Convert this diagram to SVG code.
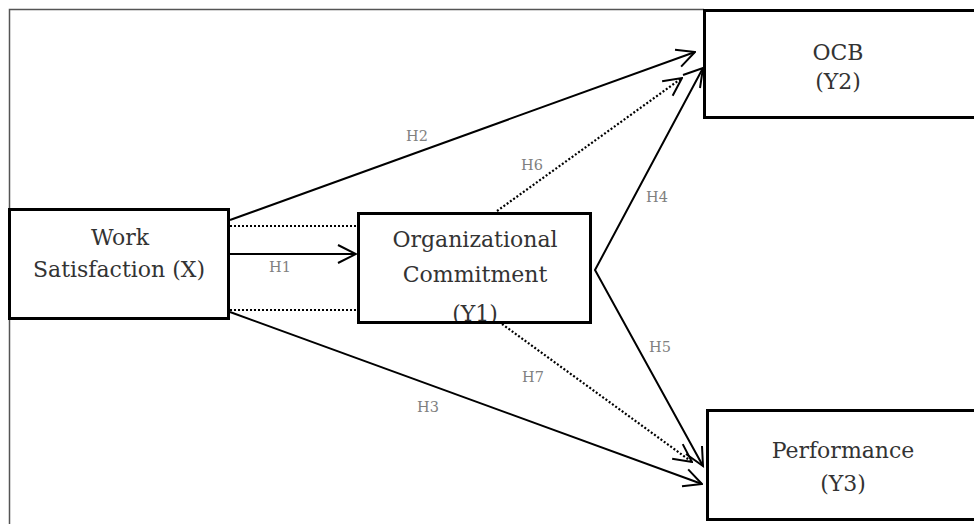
<svg xmlns="http://www.w3.org/2000/svg" width="974" height="524" viewBox="0 0 974 524">
<style>
.box{fill:#fff;stroke:#000;stroke-width:3}
.t{font-family:"DejaVu Serif","Liberation Serif",serif;font-size:22px;fill:#333;text-anchor:middle}
.l{font-family:"DejaVu Serif","Liberation Serif",serif;font-size:14.5px;fill:#808080;text-anchor:middle}
.s{fill:none;stroke:#000;stroke-width:2}
.d{fill:none;stroke:#000;stroke-width:2.2;stroke-dasharray:2 2}
.frame{fill:none;stroke:#555;stroke-width:1.5}
</style>
<defs>
<marker id="ahl" viewBox="0 0 24 24" refX="23" refY="12" markerWidth="24" markerHeight="24" markerUnits="userSpaceOnUse" orient="auto">
<path d="M5,3 L23,12 L5,21" fill="none" stroke="#000" stroke-width="2"/>
</marker>
<clipPath id="clipY1"><rect x="358" y="213" width="233" height="109"/></clipPath>
</defs>
<g id="frame">
<path class="frame" d="M9.5,524 V9.5 H704"/>
</g>
<g id="connectors">
<line class="d" x1="230" y1="226" x2="357" y2="226"/>
<line class="d" x1="230" y1="310" x2="357" y2="310"/>
<line class="s" x1="230" y1="254" x2="356" y2="254" marker-end="url(#ahl)"/>
<line class="s" x1="230" y1="220" x2="695" y2="52" marker-end="url(#ahl)"/>
<line class="d" x1="497" y1="211" x2="682" y2="78" marker-end="url(#ahl)"/>
<line class="s" x1="230" y1="312" x2="702" y2="484" marker-end="url(#ahl)"/>
<line class="d" x1="502" y1="324" x2="692" y2="462" marker-end="url(#ahl)"/>
<polyline class="s" points="703,68 595,270 703,466"/>
<path d="M683,75 L703,68 L700,88" fill="none" stroke="#000" stroke-width="2"/>
<path d="M702,446 L703,466 L686,454" fill="none" stroke="#000" stroke-width="2"/>
</g>
<g id="labels">
<text class="l" x="417" y="141">H2</text>
<text class="l" x="532" y="170">H6</text>
<text class="l" x="657" y="202">H4</text>
<text class="l" x="280" y="272">H1</text>
<text class="l" x="660" y="352">H5</text>
<text class="l" x="533" y="382">H7</text>
<text class="l" x="428" y="412">H3</text>
</g>
<g id="work-satisfaction">
<rect class="box" x="9.5" y="209.5" width="219" height="109"/>
<text class="t" x="120" y="245">Work</text>
<text class="t" x="119" y="277">Satisfaction (X)</text>
</g>
<g id="org-commitment">
<rect class="box" x="358.5" y="213.5" width="232" height="109"/>
<text class="t" x="475" y="247">Organizational</text>
<text class="t" x="475" y="282">Commitment</text>
<text class="t" x="475" y="321" clip-path="url(#clipY1)">(Y1)</text>
<rect x="358.5" y="213.5" width="232" height="109" fill="none" stroke="#000" stroke-width="3"/>
</g>
<g id="ocb">
<rect class="box" x="704.5" y="10.5" width="280" height="107"/>
<text class="t" x="838" y="60">OCB</text>
<text class="t" x="838" y="89">(Y2)</text>
</g>
<g id="performance">
<rect class="box" x="707.5" y="410.5" width="280" height="109"/>
<text class="t" x="843" y="458">Performance</text>
<text class="t" x="843" y="491">(Y3)</text>
</g>
</svg>
